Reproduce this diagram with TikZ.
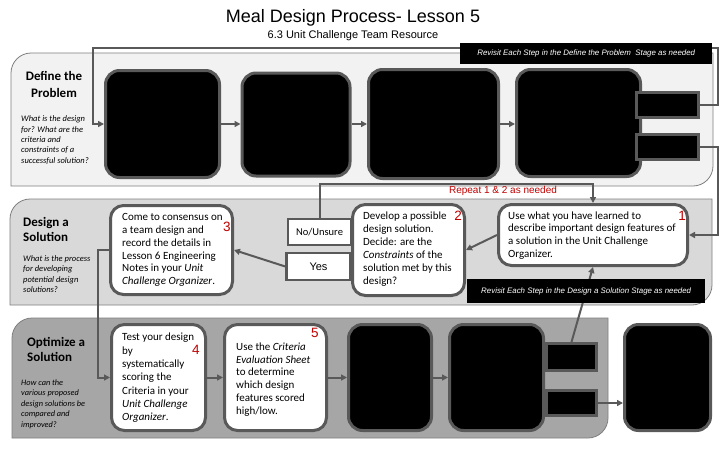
\documentclass[tikz,border=0pt]{standalone}
\usepackage{fontspec}
\setmainfont{Carlito}
\newfontfamily\arialf{Liberation Sans}
\usetikzlibrary{arrows.meta}
\definecolor{bordergray}{HTML}{595959}
\definecolor{panelA}{HTML}{F2F2F2}
\definecolor{panelB}{HTML}{D9D9D9}
\definecolor{panelC}{HTML}{A6A6A6}
\definecolor{panelline}{HTML}{7F7F7F}
\definecolor{numred}{HTML}{C00000}
\begin{document}
\begin{tikzpicture}[x=1pt,y=-1pt,
  panel/.style={draw=panelline, line width=0.8pt},
  hbox/.style={draw=bordergray, line width=3pt, fill=black, rounded corners=14pt, inner sep=0pt},
  tbox/.style={draw=bordergray, line width=3pt, fill=white, rounded corners=13pt, inner sep=0pt},
  sbox/.style={draw=bordergray, line width=3pt, fill=black, inner sep=0pt},
  lbox/.style={draw=bordergray, line width=2.5pt, fill=white, inner sep=0pt},
  conn/.style={draw=bordergray, line width=2pt, -{Triangle[length=6pt,width=6pt]}},
  banner/.style={fill=black, text=white, inner sep=0pt, font=\arialf\itshape\fontsize{7.9}{9}\selectfont},
  boxtext/.style={align=left, anchor=west, inner sep=0pt, font=\fontsize{11}{12.9}\selectfont},
  num/.style={text=numred, inner sep=0pt, font=\arialf\fontsize{13.5}{14}\selectfont},
  ptitle/.style={inner sep=0pt, font=\bfseries\fontsize{13}{16}\selectfont},
  ques/.style={align=left, anchor=west, inner sep=0pt, font=\itshape\fontsize{8.5}{10.4}\selectfont}
]
\useasboundingbox (0,0) rectangle (720,450);
\fill[white] (0,0) rectangle (720,450);

% titles
\node[inner sep=0pt, font=\arialf\fontsize{18}{20}\selectfont] (title) at (353,18) {Meal Design Process- Lesson 5};
\node[inner sep=0pt, font=\arialf\fontsize{11}{13}\selectfont] (sub) at (353,36) {6.3 Unit Challenge Team Resource};

% panels
\path[panel, fill=panelA] (11,186) -- (11,73) .. controls (11,62) and (20,53) .. (31,53) -- (713,53) -- (713,166) .. controls (713,177) and (704,186) .. (693,186) -- cycle;
\path[panel, fill=panelB] (10,305) -- (10,219) .. controls (10,208) and (19,199) .. (30,199) -- (712,199) -- (712,285) .. controls (712,296) and (703,305) .. (692,305) -- cycle;
\path[panel, fill=panelC] (12,438) -- (12,338) .. controls (12,327) and (21,318) .. (32,318) -- (608,318) -- (608,418) .. controls (608,429) and (599,438) .. (588,438) -- cycle;

% panel labels
\node[ptitle, align=center, font=\bfseries\fontsize{13}{17}\selectfont] (deflab) at (54,84) {Define the\\Problem};
\node[ques] (defq) at (21,140) {What is the design\\for? What are the\\criteria and\\constraints of a\\successful solution?};
\node[ptitle, align=left, anchor=west, font=\bfseries\fontsize{13}{15}\selectfont] (deslab) at (23,229.5) {Design a\\Solution};
\node[ques] (desq) at (23,274) {What is the process\\for developing\\potential design\\solutions?};
\node[ptitle, align=left, anchor=west, font=\bfseries\fontsize{13}{15}\selectfont] (optlab) at (27,349.5) {Optimize a\\Solution};
\node[ques, font=\itshape\fontsize{8.3}{10.5}\selectfont] (optq) at (21,404) {How can the\\various proposed\\design solutions be\\compared and\\improved?};

% define boxes
\node[hbox, minimum width=114, minimum height=107] (d1) at (162.5,124) {};
\node[hbox, minimum width=108, minimum height=103] (d2) at (296,124.5) {};
\node[hbox, minimum width=130, minimum height=109] (d3) at (433.5,124) {};
\node[hbox, minimum width=124, minimum height=107] (d4) at (578.5,123) {};
\node[sbox, minimum width=62, minimum height=25] (s1) at (667.5,104.5) {};
\node[sbox, minimum width=62, minimum height=25] (s2) at (667.5,147) {};

% design boxes
\node[tbox, minimum width=122, minimum height=89] (b3) at (171.5,250) {};
\node[boxtext] (b3t) at (122,250) {Come to consensus on\\a team design and\\record the details in\\Lesson 6 Engineering\\Notes in your \textit{Unit}\\\textit{Challenge Organizer}.};
\node[num] (n3) at (227,227) {3};
\node[lbox, minimum width=63, minimum height=26] (no) at (319.5,232) {\fontsize{10.5}{12}\selectfont No/Unsure};
\node[lbox, minimum width=64, minimum height=27] (yes) at (318.5,266.5) {\arialf\fontsize{11}{12}\selectfont Yes};
\node[tbox, minimum width=112, minimum height=91] (b2) at (408.5,250) {};
\node[boxtext] (b2t) at (363,249) {Develop a possible\\design solution.\\Decide: are the\\\textit{Constraints} of the\\solution met by this\\design?};
\node[num] (n2) at (458,216) {2};
\node[tbox, minimum width=189, minimum height=61] (b1) at (593,235) {};
\node[boxtext] (b1t) at (508,235.5) {Use what you have learned to\\describe important design features of\\a solution in the Unit Challenge\\Organizer.};
\node[num] (n1) at (682,216) {1};

% optimize boxes
\node[tbox, minimum width=94, minimum height=106] (o4) at (158.5,377.5) {};
\node[boxtext, font=\fontsize{11}{13.3}\selectfont] (o4t) at (122,378) {Test your design\\by\\systematically\\scoring the\\Criteria in your\\\textit{Unit Challenge}\\\textit{Organizer}.};
\node[num] (n4) at (196,350) {4};
\node[tbox, minimum width=102, minimum height=106] (o5) at (275.5,377.5) {};
\node[boxtext] (o5t) at (236,379.5) {Use the \textit{Criteria}\\\textit{Evaluation Sheet}\\to determine\\which design\\features scored\\high/low.};
\node[num] (n5) at (315,333) {5};
\node[hbox, minimum width=83, minimum height=106] (o6) at (390,377.5) {};
\node[hbox, minimum width=94, minimum height=106] (o7) at (496.5,377.5) {};
\node[sbox, minimum width=50, minimum height=27] (os1) at (571.5,357) {};
\node[sbox, minimum width=50, minimum height=25] (os2) at (571.5,403) {};
\node[hbox, minimum width=86, minimum height=106] (o8) at (667.5,377.5) {};

% helper coordinates
\coordinate (rtop) at (718,48);
\coordinate (ltop) at (93,48);
\coordinate (rrun) at (718,0);
\coordinate (reprow) at (0,184);
\coordinate (lrun) at (98,0);

% connectors
\draw[conn] (s1.east) -| (rtop) -- (ltop) |- (d1.west);
\draw[conn] (s2.east) -| (rrun |- b1.east) -- (b1.east);
\draw[conn] (d1.east) -- (d1.east -| d2.west);
\draw[conn] (d2.east |- d1.east) -- (d1.east -| d3.west);
\draw[conn] (d3.east |- d1.east) -- (d1.east -| d4.west);
\draw[conn] (no.north) -- (no.north |- reprow) -| (b1.north);
\draw[conn] (b1.west) -- (b2.east);
\draw[conn] (yes.west) -- (b3.east);
\draw[conn] (b3.west) -- (b3.west -| lrun) |- (o4.west);
\draw[conn] (os1.north) -- (b1.south);
\draw[conn] (o4.east) -- (o5.west);
\draw[conn] (o5.east) -- (o6.west);
\draw[conn] (o6.east) -- (o7.west);
\draw[conn] (os2.east) -- (os2.east -| o8.west);

\node[text=numred, inner sep=0pt, font=\arialf\fontsize{10}{12}\selectfont] (rep) at (503,191) {Repeat 1 \& 2 as needed};

% banners
\node[banner, anchor=north west, minimum width=252, minimum height=21] (ban1) at (460,43) {Revisit Each Step in the Define the Problem\ \ Stage as needed};
\node[banner, anchor=north west, minimum width=238, minimum height=24] (ban2) at (467,279) {Revisit Each Step in the Design a Solution Stage as needed};
\end{tikzpicture}
\end{document}
